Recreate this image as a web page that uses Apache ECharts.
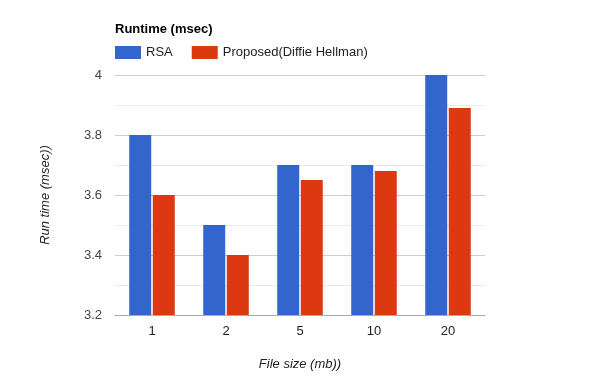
<!DOCTYPE html>
<html><head><meta charset="utf-8">
<script src="https://cdn.jsdelivr.net/npm/echarts@6/dist/echarts.min.js"></script>
<style>html,body{margin:0;padding:0;background:#fff}#c{width:600px;height:390px}</style>
</head><body><div id="c"></div>
<script>
const categories = ['1', '2', '5', '10', '20'];
const rsa = [3.8, 3.5, 3.7, 3.7, 4.0];
const proposed = [3.6, 3.4, 3.65, 3.68, 3.89];
const seriesNames = ['RSA', 'Proposed(Diffie Hellman)'];
const font = '"Liberation Sans", Arial, sans-serif';
const chart = echarts.init(document.getElementById('c'), null, {renderer: 'canvas'});
chart.setOption({
  animation: false,
  backgroundColor: '#fff',
  textStyle: {fontFamily: font},
  title: {text: 'Runtime (msec)', left: 110, top: 18,
    textStyle: {fontSize: 13, fontWeight: 'bold', color: '#000', fontFamily: font}},
  legend: {left: 110, top: 41, itemWidth: 26, itemHeight: 13, itemGap: 19,
    icon: 'rect', textStyle: {fontSize: 13, color: '#222', fontFamily: font},
    data: seriesNames},
  grid: {left: 115, right: 115, top: 75, bottom: 75, containLabel: false},
  xAxis: {type: 'category', data: categories,
    name: 'File size (mb))', nameLocation: 'middle', nameGap: 43,
    nameTextStyle: {fontStyle: 'italic', fontSize: 13, color: '#222', fontFamily: font},
    axisLine: {show: true, lineStyle: {color: '#aaa'}}, axisTick: {show: false},
    axisLabel: {fontSize: 13, color: '#222', margin: 10, fontFamily: font}},
  yAxis: {type: 'value', min: 3.2, max: 4, interval: 0.2,
    name: 'Run time (msec))', nameLocation: 'middle', nameGap: 63,
    nameTextStyle: {fontStyle: 'italic', fontSize: 13, color: '#222', fontFamily: font},
    axisLine: {show: false}, axisTick: {show: false},
    axisLabel: {fontSize: 13, color: '#444', margin: 13, fontFamily: font,
      formatter: v => String(parseFloat(v.toFixed(1)))},
    splitLine: {lineStyle: {color: '#ccc'}},
    minorTick: {show: false, splitNumber: 2},
    minorSplitLine: {show: true, lineStyle: {color: '#ebebeb'}}},
  series: [
    {name: seriesNames[0], type: 'bar', data: rsa, barWidth: 22, barGap: '7%',
      itemStyle: {color: '#3366cc'}},
    {name: seriesNames[1], type: 'bar', data: proposed, barWidth: 22,
      itemStyle: {color: '#dc3912'}}
  ]
});
</script></body></html>
